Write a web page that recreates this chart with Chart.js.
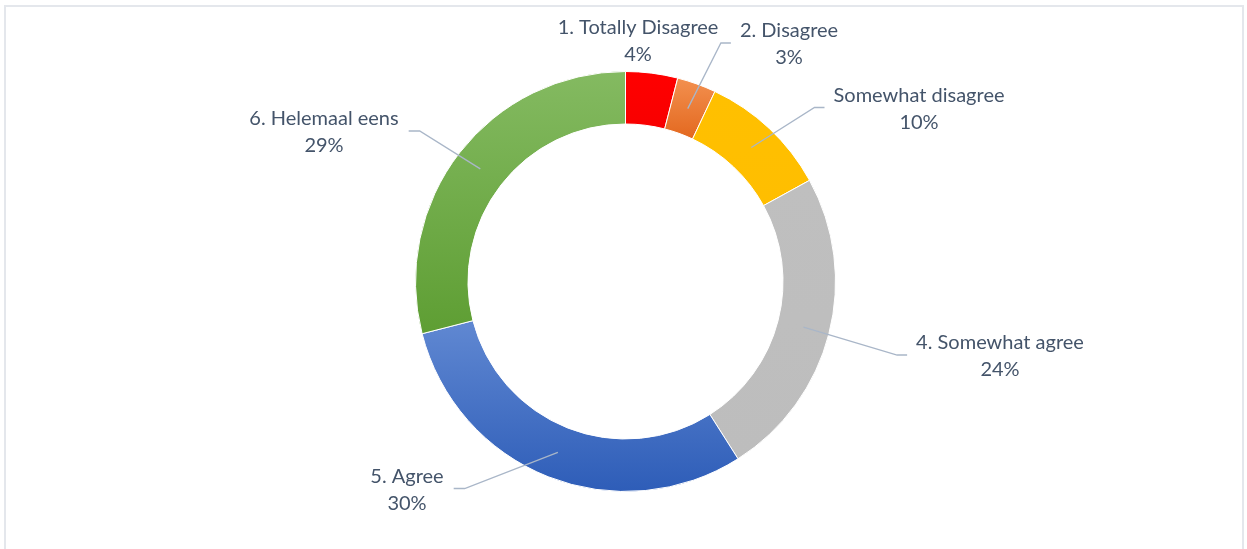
<!DOCTYPE html>
<html>
<head>
<meta charset="utf-8">
<script src="https://cdn.jsdelivr.net/npm/chart.js@4.4.1/dist/chart.umd.min.js"></script>
<style>
  html, body { margin: 0; padding: 0; background: #fff; overflow: hidden; }
  #wrap { position: relative; width: 1247px; height: 549px; }
  #frame { position: absolute; left: 4px; top: 5px; width: 1240px; height: 600px;
           border: 2px solid #E4E7EC; box-sizing: border-box; }
  canvas { position: absolute; left: 0; top: 0; }
</style>
</head>
<body>
<div id="wrap">
  <div id="frame"></div>
  <canvas id="donut" width="1247" height="549"></canvas>
</div>
<script>
// Daten
const categories = ["1. Totally Disagree", "2. Disagree", "Somewhat disagree", "4. Somewhat agree", "5. Agree", "6. Helemaal eens"];
const shares = [4, 3, 10, 24, 30, 29];

// Farben: oben -> unten (Verlauf je Segment)
const colorsTop = ["#FF0000", "#F3904F", "#FFC000", "#BFBFBF", "#6088D2", "#84BA61"];
const colorsBottom = ["#F80000", "#E3681F", "#FFBE00", "#BDBDBD", "#2E5DB8", "#5E9E33"];

// Label-Mitte (1. Zeile) relativ zum Kreismittelpunkt, und ob Fuehrungslinie
const labelOffsets = [[12.5, -253.5], [163.5, -250.5], [293.5, -186], [374.5, 61.5], [-218.5, 195], [-301.5, -162.5]];
const hasLeader = [false, true, true, true, true, true];

const FONT = '20px Lato';
const TEXT_COLOR = '#44546A';
const LINE_COLOR = '#A9B6C8';

const total = shares.reduce((a, b) => a + b, 0);

// Verlauf pro Segment ueber dessen eigene Hoehe
function sliceGradient(ctx) {
  const chart = ctx.chart;
  const i = ctx.dataIndex;
  const area = chart.chartArea;
  const ctrl = chart.getDatasetMeta(0).controller;
  if (!area || !ctrl || !ctrl.outerRadius) return colorsTop[i];
  const cy = (area.top + area.bottom) / 2;
  let cum = 0;
  for (let k = 0; k < i; k++) cum += shares[k];
  const a0 = -Math.PI / 2 + cum / total * Math.PI * 2;
  const a1 = a0 + shares[i] / total * Math.PI * 2;
  let minY = Infinity, maxY = -Infinity;
  for (let s = 0; s <= 40; s++) {
    const a = a0 + (a1 - a0) * s / 40;
    for (const r of [ctrl.innerRadius, ctrl.outerRadius]) {
      const y = cy + Math.sin(a) * r;
      minY = Math.min(minY, y);
      maxY = Math.max(maxY, y);
    }
  }
  const g = chart.ctx.createLinearGradient(0, minY, 0, maxY);
  g.addColorStop(0, colorsTop[i]);
  g.addColorStop(1, colorsBottom[i]);
  return g;
}

const labelPlugin = {
  id: 'outerLabels',
  afterDatasetsDraw(chart) {
    const c = chart.ctx;
    const meta = chart.getDatasetMeta(0);
    c.save();
    c.font = FONT;
    c.textAlign = 'center';
    c.textBaseline = 'middle';
    meta.data.forEach((arc, i) => {
      const cx = arc.x + labelOffsets[i][0];
      const cy = arc.y + labelOffsets[i][1];
      const line2 = shares[i] + '%';
      c.fillStyle = TEXT_COLOR;
      c.fillText(categories[i], cx, cy);
      c.fillText(line2, cx, cy + 27);

      if (!hasLeader[i]) return;
      const w = Math.max(c.measureText(categories[i]).width, c.measureText(line2).width);
      const mid = (arc.startAngle + arc.endAngle) / 2;
      const r = (arc.innerRadius + arc.outerRadius) / 2;
      const sx = arc.x + Math.cos(mid) * r;
      const sy = arc.y + Math.sin(mid) * r;
      const right = cx > arc.x;
      const ex = right ? cx - w / 2 - 9 : cx + w / 2 + 10;
      const kx = right ? ex - 10 : ex + 11;
      const ly = cy + 12;
      c.strokeStyle = LINE_COLOR;
      c.lineWidth = 1.3;
      c.beginPath();
      c.moveTo(sx, sy);
      c.lineTo(kx, ly);
      c.lineTo(ex, ly);
      c.stroke();
    });
    c.restore();
  }
};

new Chart(document.getElementById('donut'), {
  type: 'doughnut',
  data: {
    labels: categories,
    datasets: [{
      data: shares,
      backgroundColor: sliceGradient,
      borderColor: '#ffffff',
      borderWidth: 1
    }]
  },
  options: {
    responsive: false,
    animation: false,
    cutout: '75%',
    layout: { padding: { top: 71, bottom: 57, left: 4, right: 0 } },
    plugins: {
      legend: { display: false },
      tooltip: { enabled: false }
    }
  },
  plugins: [labelPlugin]
});
</script>
</body>
</html>
